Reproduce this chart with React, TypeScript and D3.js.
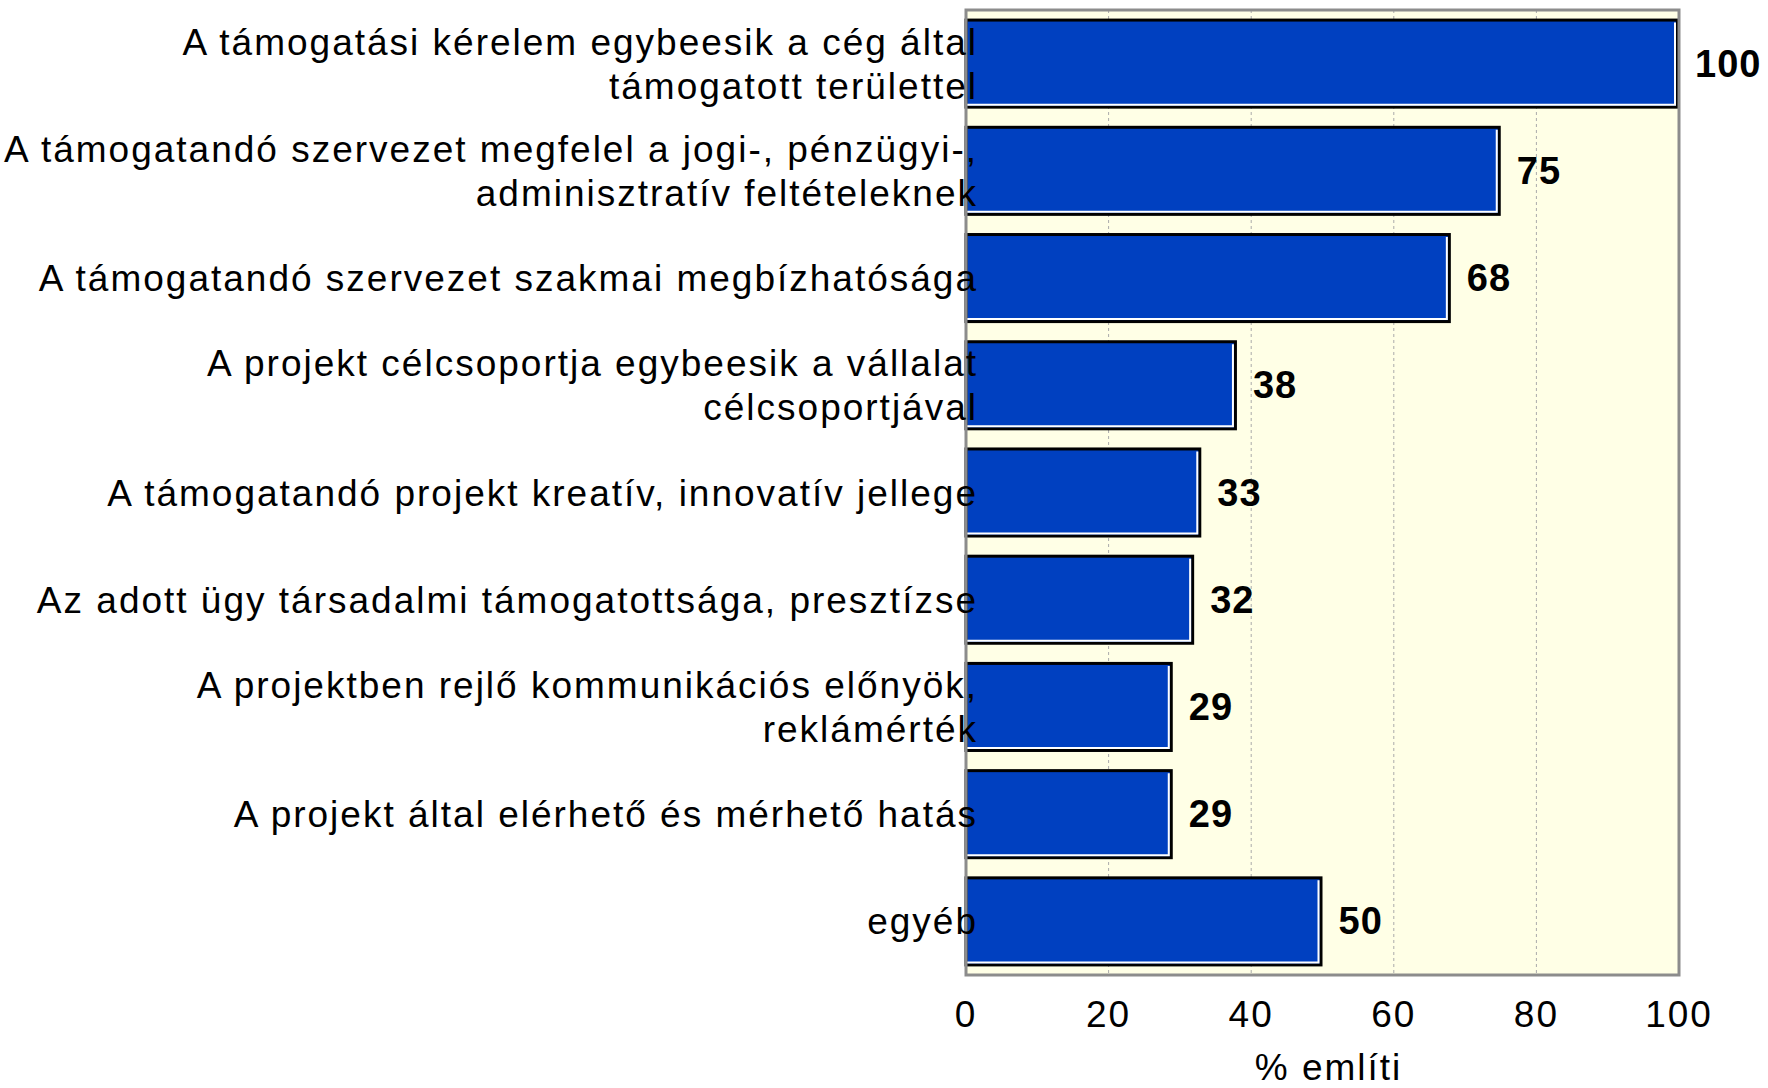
import React from 'react'
import * as d3 from 'd3'

// category labels, each one already split into its lines
const categories: string[][] = [
    ['A támogatási kérelem egybeesik a cég által', 'támogatott területtel'],
    ['A támogatandó szervezet megfelel a jogi-, pénzügyi-,', 'adminisztratív feltételeknek'],
    ['A támogatandó szervezet szakmai megbízhatósága'],
    ['A projekt célcsoportja egybeesik a vállalat', 'célcsoportjával'],
    ['A támogatandó projekt kreatív, innovatív jellege'],
    ['Az adott ügy társadalmi támogatottsága, presztízse'],
    ['A projektben rejlő kommunikációs előnyök,', 'reklámérték'],
    ['A projekt által elérhető és mérhető hatás'],
    ['egyéb'],
]
const values = [100, 75, 68, 38, 33, 32, 29, 29, 50]
const xTicks = [0, 20, 40, 60, 80, 100]
const xTitle = '% említi'

const W = 1768
const H = 1088
const plot = { left: 966, right: 1679, top: 10, bottom: 975 }
const font = '"Liberation Sans", Arial, sans-serif'
const barColor = '#0040c0'
const plotBg = '#ffffe6'

function App() {
    const x = d3.scaleLinear().domain([0, 100]).range([plot.left, plot.right])
    const y = d3.scaleBand<number>()
        .domain(d3.range(values.length))
        .range([plot.top, plot.bottom])
        .paddingInner(0.16)
        .paddingOuter(0.08)
    const bw = y.bandwidth()
    const labelSize = 37
    const lineGap = 44

    return (
        <div style={{ position: 'absolute', left: 0, top: 0 }}>
            <svg width={W} height={H} style={{ display: 'block', background: 'white' }}>
                <rect x={plot.left} y={plot.top} width={plot.right - plot.left} height={plot.bottom - plot.top} fill={plotBg} />
                {xTicks.slice(1, -1).map(t => (
                    <line key={t} x1={x(t)} x2={x(t)} y1={plot.top} y2={plot.bottom}
                        stroke="#aaaaaa" strokeWidth={1} strokeDasharray="3,3" />
                ))}
                {values.map((v, i) => {
                    const y0 = y(i) as number
                    const x0 = x(0)
                    const x1 = x(v)
                    return (
                        <g key={i}>
                            <rect x={x0} y={y0 + 1.5} width={x1 - x0 - 1.5} height={bw - 3}
                                fill={barColor} stroke="black" strokeWidth={3} />
                            <path d={`M${x0},${y0 + bw - 4} H${x1 - 4} V${y0 + 4}`}
                                fill="none" stroke="white" strokeWidth={2} />
                        </g>
                    )
                })}
                <rect x={plot.left} y={plot.top} width={plot.right - plot.left} height={plot.bottom - plot.top}
                    fill="none" stroke="#8c8c8c" strokeWidth={3} />
                {values.map((v, i) => (
                    <text key={i} x={x(v) + 16} y={(y(i) as number) + bw / 2 + 13}
                        fontFamily={font} fontSize={38} fontWeight="bold" letterSpacing={1}>
                        {v}
                    </text>
                ))}
                {categories.map((lines, i) => {
                    const cy = (y(i) as number) + bw / 2
                    const start = cy - (lines.length - 1) * lineGap / 2
                    return (
                        <text key={i} textAnchor="end" fontFamily={font} fontSize={labelSize} letterSpacing={2}>
                            {lines.map((l, j) => (
                                <tspan key={j} x={978} y={start + j * lineGap + 13}>{l}</tspan>
                            ))}
                        </text>
                    )
                })}
                {xTicks.map(t => (
                    <text key={t} x={x(t)} y={1027} textAnchor="middle" fontFamily={font} fontSize={37} letterSpacing={2}>
                        {t}
                    </text>
                ))}
                <text x={(plot.left + plot.right) / 2 + 6} y={1080} textAnchor="middle" fontFamily={font} fontSize={37} letterSpacing={2}>
                    {xTitle}
                </text>
            </svg>
        </div>
    )
}

export default App
